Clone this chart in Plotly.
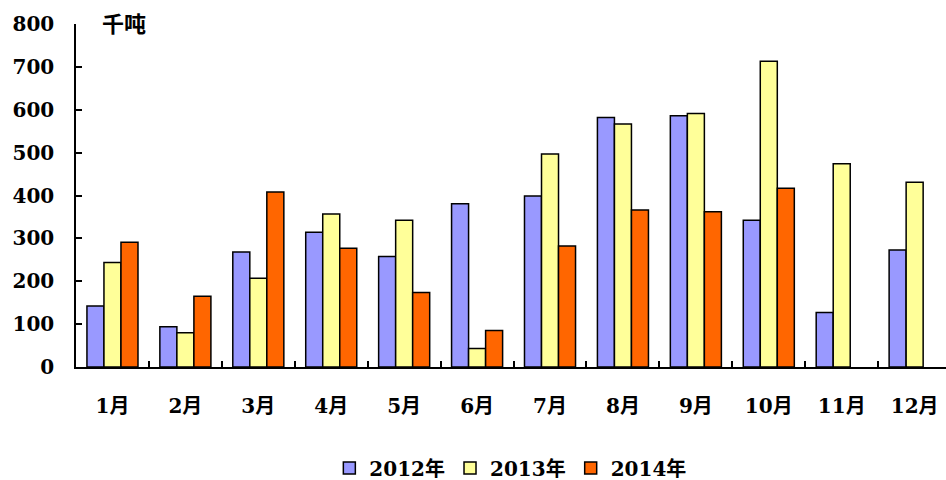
import plotly.graph_objects as go

# Monthly volume, thousand tonnes
months = ["1月", "2月", "3月", "4月", "5月", "6月", "7月", "8月", "9月", "10月", "11月", "12月"]
y2012 = [142, 94, 268, 314, 258, 381, 399, 582, 586, 342, 127, 273]
y2013 = [244, 80, 207, 357, 342, 43, 497, 567, 591, 713, 474, 431]
y2014 = [291, 165, 408, 277, 174, 85, 282, 366, 362, 417, None, None]

series = [
    ("2012年", y2012, "#9999FF"),
    ("2013年", y2013, "#FFFF99"),
    ("2014年", y2014, "#FF6600"),
]

FONT = "DejaVu Serif, Noto Sans CJK SC, serif"
SIZE = 20

fig = go.Figure()
for name, vals, color in series:
    fig.add_trace(go.Bar(
        x=months, y=vals, name=name,
        marker=dict(color=color, line=dict(color="#000000", width=1.5)),
    ))

fig.update_layout(
    width=946, height=480,
    margin=dict(l=76, r=0, t=24, b=113),
    paper_bgcolor="white", plot_bgcolor="white",
    barmode="group", bargap=0.3, bargroupgap=0,
    font=dict(family=FONT, size=SIZE, color="#000000", weight="bold"),
    showlegend=True,
    legend=dict(
        orientation="h", xref="container", yref="container",
        x=0.54, xanchor="center", y=1 - 468 / 480, yanchor="middle",
        font=dict(family=FONT, size=SIZE, color="#000000", weight="bold"),
        itemwidth=30, tracegroupgap=0, bgcolor="rgba(0,0,0,0)",
    ),
    xaxis=dict(
        type="category", range=[-0.5, 11.43],
        showline=True, linecolor="#000000", linewidth=1.5,
        ticks="inside", ticklen=6, tickcolor="#000000", tickwidth=1.5,
        tickson="boundaries", showgrid=False, zeroline=False,
        ticklabelstandoff=20,
        tickfont=dict(family=FONT, size=SIZE, color="#000000", weight="bold"),
    ),
    yaxis=dict(
        range=[0, 800], dtick=100,
        showline=True, linecolor="#000000", linewidth=1.5,
        ticks="inside", ticklen=6, tickcolor="#000000", tickwidth=1.5,
        showgrid=False, zeroline=False,
        ticklabelstandoff=16,
        tickfont=dict(family=FONT, size=SIZE, color="#000000", weight="bold"),
    ),
    annotations=[dict(
        text="千吨", xref="paper", yref="paper", x=0.028, y=1.0,
        xanchor="left", yanchor="middle", showarrow=False,
        font=dict(family=FONT, size=SIZE + 2, color="#000000", weight="bold"),
    )],
)

fig.write_html("out.html")
